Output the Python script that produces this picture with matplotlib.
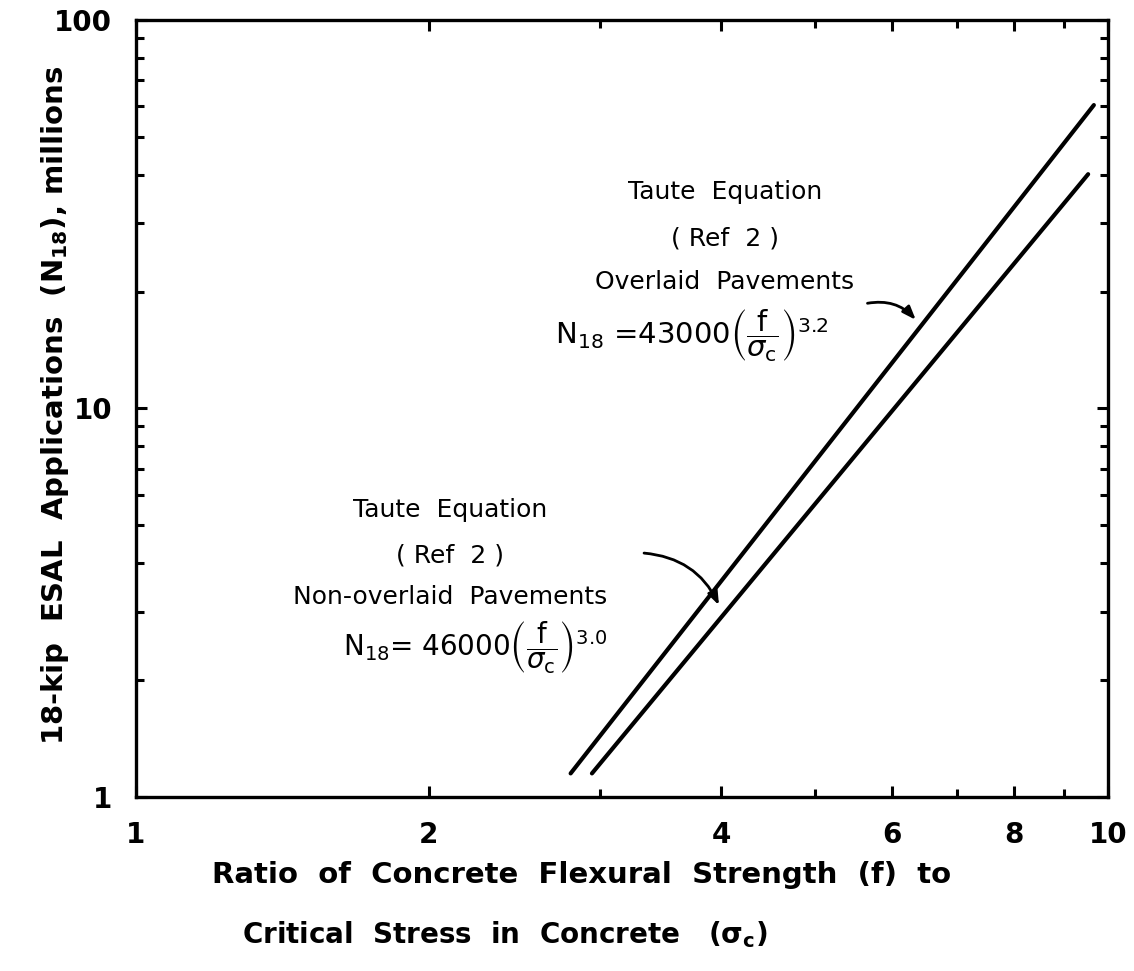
import matplotlib
matplotlib.use("Agg")
import matplotlib.pyplot as plt
from matplotlib.ticker import FixedLocator, NullFormatter

# end points of the two straight (log-log) lines
ratio_overlaid = [2.80, 9.67]
esal_overlaid = [1.15, 60.4]
ratio_nonoverlaid = [2.945, 9.54]
esal_nonoverlaid = [1.15, 40.1]

x_major = [1, 2, 4, 6, 8, 10]
x_minor = [3, 5, 7, 9]
y_major = [1, 10, 100]
y_minor = [m * d for d in (1, 10) for m in range(2, 10)]

plt.rcParams["font.family"] = ["DejaVu Sans"]
plt.rcParams["mathtext.fontset"] = "dejavusans"

fig = plt.figure(figsize=(11.34, 9.71), dpi=100)
ax = fig.add_axes([0.1199, 0.1792, 0.8572, 0.8002])

ax.plot(ratio_overlaid, esal_overlaid, color="black", lw=3, solid_capstyle="round")
ax.plot(ratio_nonoverlaid, esal_nonoverlaid, color="black", lw=3, solid_capstyle="round")

ax.set_xscale("log")
ax.set_yscale("log")
ax.set_xlim(1, 10)
ax.set_ylim(1, 100)

ax.xaxis.set_major_locator(FixedLocator(x_major))
ax.xaxis.set_minor_locator(FixedLocator(x_minor))
ax.set_xticklabels([str(v) for v in x_major])
ax.xaxis.set_minor_formatter(NullFormatter())
ax.yaxis.set_major_locator(FixedLocator(y_major))
ax.yaxis.set_minor_locator(FixedLocator(y_minor))
ax.set_yticklabels([str(v) for v in y_major])
ax.yaxis.set_minor_formatter(NullFormatter())

ax.tick_params(which="both", direction="in", top=True, right=True,
               width=2.2, labelsize=20, pad=17)
ax.tick_params(which="major", length=8)
ax.tick_params(which="minor", length=6)
for lab in ax.get_xticklabels() + ax.get_yticklabels():
    lab.set_fontweight("bold")
for sp in ax.spines.values():
    sp.set_linewidth(2.4)

# upper annotation
txt_kw = dict(transform=ax.transAxes, ha="center", va="center", fontsize=18)
ax.text(0.606, 0.779, "Taute  Equation", **txt_kw)
ax.text(0.606, 0.719, "( Ref  2 )", **txt_kw)
ax.text(0.606, 0.663, "Overlaid  Pavements", **txt_kw)
ax.text(0.431, 0.593,
        r"$\mathrm{N_{18}}$ =43000$\left(\dfrac{\mathrm{f}}{\sigma_\mathrm{c}}\right)^{3.2}$",
        transform=ax.transAxes, ha="left", va="center", fontsize=21)
ax.annotate("", xy=(6.37, 16.7), xytext=(5.62, 18.6),
            arrowprops=dict(arrowstyle="-|>,head_length=0.8,head_width=0.3",
                            color="black", lw=2,
                            connectionstyle="arc3,rad=-0.3"))

# lower annotation
ax.text(0.323, 0.369, "Taute  Equation", **txt_kw)
ax.text(0.323, 0.311, "( Ref  2 )", **txt_kw)
ax.text(0.323, 0.257, "Non-overlaid  Pavements", **txt_kw)
ax.text(0.213, 0.193,
        r"$\mathrm{N_{18}}$= 46000$\left(\dfrac{\mathrm{f}}{\sigma_\mathrm{c}}\right)^{3.0}$",
        transform=ax.transAxes, ha="left", va="center", fontsize=20)
ax.annotate("", xy=(3.99, 3.07), xytext=(3.31, 4.25),
            arrowprops=dict(arrowstyle="-|>,head_length=0.8,head_width=0.3",
                            color="black", lw=2,
                            connectionstyle="arc3,rad=-0.3"))

# axis labels
fig.text(0.0485, 0.583, r"18-kip  ESAL  Applications  ($\mathbf{N_{18}}$), millions",
         rotation=90, ha="center", va="center", fontsize=21, fontweight="bold")
fig.text(0.513, 0.099, "Ratio  of  Concrete  Flexural  Strength  (f)  to",
         ha="center", va="center", fontsize=21, fontweight="bold")
fig.text(0.445, 0.037, r"Critical  Stress  in  Concrete   ($\mathbf{\sigma_c}$)",
         ha="center", va="center", fontsize=20, fontweight="bold")

fig.savefig("out.png", dpi=100)
